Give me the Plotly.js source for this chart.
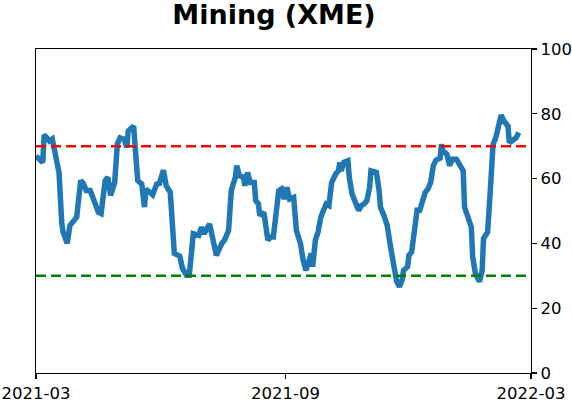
<!DOCTYPE html>
<html>
<head>
<meta charset="utf-8">
<script src="https://cdn.plot.ly/plotly-3.0.1.min.js"></script>
<style>html,body{margin:0;padding:0;background:#fff;}#chart{width:572px;height:402px;}</style>
</head>
<body>
<div id="chart"></div>
<script>
const dates = [
"2021-03-01","2021-03-03","2021-03-06","2021-03-07","2021-03-10","2021-03-11","2021-03-13","2021-03-16","2021-03-18","2021-03-20",
"2021-03-21","2021-03-24","2021-03-26","2021-03-31","2021-04-03","2021-04-05","2021-04-07","2021-04-10","2021-04-13","2021-04-16",
"2021-04-18","2021-04-21","2021-04-23","2021-04-25","2021-04-28","2021-04-30","2021-05-02","2021-05-05","2021-05-07","2021-05-08",
"2021-05-12","2021-05-15","2021-05-18","2021-05-20","2021-05-21","2021-05-26","2021-05-29","2021-05-31","2021-06-03","2021-06-05",
"2021-06-08","2021-06-11","2021-06-15","2021-06-17","2021-06-20","2021-06-22","2021-06-25","2021-06-29","2021-07-01","2021-07-03",
"2021-07-07","2021-07-10","2021-07-12","2021-07-16","2021-07-18","2021-07-21","2021-07-23","2021-07-26","2021-07-27","2021-07-29",
"2021-08-01","2021-08-02","2021-08-04","2021-08-06","2021-08-09","2021-08-10","2021-08-12","2021-08-13","2021-08-16","2021-08-19",
"2021-08-21","2021-08-23","2021-08-25","2021-08-27","2021-08-29","2021-08-31","2021-09-02","2021-09-04","2021-09-07","2021-09-08",
"2021-09-09","2021-09-12","2021-09-13","2021-09-14","2021-09-16","2021-09-18","2021-09-20","2021-09-21","2021-09-23","2021-09-25",
"2021-09-27","2021-09-29","2021-10-01","2021-10-03","2021-10-05","2021-10-08","2021-10-10","2021-10-11","2021-10-12","2021-10-14",
"2021-10-17","2021-10-18","2021-10-20","2021-10-22","2021-10-25","2021-10-27","2021-10-29","2021-10-31","2021-11-02","2021-11-03",
"2021-11-05","2021-11-07","2021-11-09","2021-11-10","2021-11-13","2021-11-15","2021-11-17","2021-11-18","2021-11-20","2021-11-22",
"2021-11-24","2021-11-26","2021-11-27","2021-11-30","2021-12-01","2021-12-03","2021-12-05","2021-12-07","2021-12-09","2021-12-11",
"2021-12-13","2021-12-15","2021-12-17","2021-12-19","2021-12-21","2021-12-24","2021-12-25","2021-12-26","2021-12-27","2021-12-29",
"2021-12-31","2022-01-02","2022-01-05","2022-01-08","2022-01-10","2022-01-11","2022-01-14","2022-01-16","2022-01-17","2022-01-19",
"2022-01-22","2022-01-24","2022-01-25","2022-01-28","2022-01-30","2022-02-01","2022-02-03","2022-02-05","2022-02-07","2022-02-09",
"2022-02-12","2022-02-13","2022-02-16","2022-02-18","2022-02-20"
];
const values = [
67.0,66.0,65.0,73.5,72.3,71.6,72.2,65.5,61.8,46.2,
43.5,40.0,45.5,48.1,59.4,58.4,56.3,56.3,53.2,49.6,
49.2,59.4,60.4,54.8,58.8,70.7,72.6,72.2,69.6,74.7,
76.2,59.4,58.3,51.2,56.8,55.0,58.3,58.5,62.6,57.8,
55.8,36.9,36.1,32.3,30.2,30.2,43.0,42.5,45.0,43.0,
46.0,41.0,36.3,40.0,41.0,44.0,56.3,60.4,64.0,60.9,
60.4,57.8,61.9,58.8,58.8,53.2,52.2,48.6,49.6,41.0,
42.0,42.0,49.1,56.3,56.8,53.7,57.3,53.7,54.2,50.2,
44.0,40.0,35.3,34.8,31.7,33.8,36.9,32.8,41.0,43.5,
48.1,50.2,52.2,51.7,58.8,61.4,62.4,65.0,62.4,65.0,
65.5,60.4,55.3,53.2,50.2,51.7,52.2,53.2,57.3,62.4,
62.0,61.9,56.3,51.2,48.1,45.5,40.0,36.9,32.8,28.2,
26.6,28.7,31.7,32.8,36.3,37.4,43.0,50.2,50.2,53.2,
55.8,56.8,58.8,64.0,65.7,66.3,70.6,68.6,68.0,67.5,
64.0,66.0,66.0,64.0,62.4,51.2,48.1,45.0,35.8,30.7,
28.2,31.7,41.5,43.5,56.3,70.6,72.6,76.7,79.6,77.8,
76.2,71.1,71.8,72.6,74.2
];
const upperLevel = 70;
const lowerLevel = 30;
const xRange = ["2021-03-01","2022-03-01"];
const xTicks = ["2021-03-01","2021-09-01","2022-03-01"];
const xTickText = ["2021-03","2021-09","2022-03"];
const yTicks = [0,20,40,60,80,100];
const chartTitle = "Mining (XME)";

const font = "DejaVu Sans, Liberation Sans, sans-serif";
const trace = {
  x: dates, y: values, type: "scatter", mode: "lines",
  line: {color: "#1f77b4", width: 5.5}, hoverinfo: "skip"
};
const layout = {
  width: 572, height: 402,
  margin: {l: 35.5, r: 40.5, t: 48.5, b: 28.5},
  paper_bgcolor: "#fff", plot_bgcolor: "#fff",
  showlegend: false,
  font: {family: font, size: 16.5, color: "#000"},
  title: {text: "<b>" + chartTitle + "</b>", font: {family: font, size: 27, color: "#000"},
    x: 274/572, xref: "container", xanchor: "center", y: 1 - 15/402, yref: "container", yanchor: "middle"},
  xaxis: {
    type: "date", range: xRange, tickvals: xTicks, ticktext: xTickText,
    showgrid: false, zeroline: false, showline: true, linecolor: "#000", linewidth: 1.1, mirror: true,
    ticks: "outside", ticklen: 5, tickwidth: 1.1, tickcolor: "#000",
    tickfont: {family: font, size: 16.5, color: "#000"}
  },
  yaxis: {
    range: [0, 100], side: "right", tickvals: yTicks,
    showgrid: false, zeroline: false, showline: true, linecolor: "#000", linewidth: 1.1, mirror: true,
    ticks: "outside", ticklen: 5, tickwidth: 1.1, tickcolor: "#000",
    tickfont: {family: font, size: 16.5, color: "#000"}
  },
  shapes: [
    {type: "line", xref: "paper", x0: 0, x1: 1, yref: "y", y0: upperLevel, y1: upperLevel,
     line: {color: "#ff0000", width: 2.5, dash: "10px,5px"}, layer: "above"},
    {type: "line", xref: "paper", x0: 0, x1: 1, yref: "y", y0: lowerLevel, y1: lowerLevel,
     line: {color: "#008000", width: 2.5, dash: "10px,5px"}, layer: "above"}
  ]
};
Plotly.newPlot("chart", [trace], layout, {staticPlot: true, displayModeBar: false});
</script>
</body>
</html>
